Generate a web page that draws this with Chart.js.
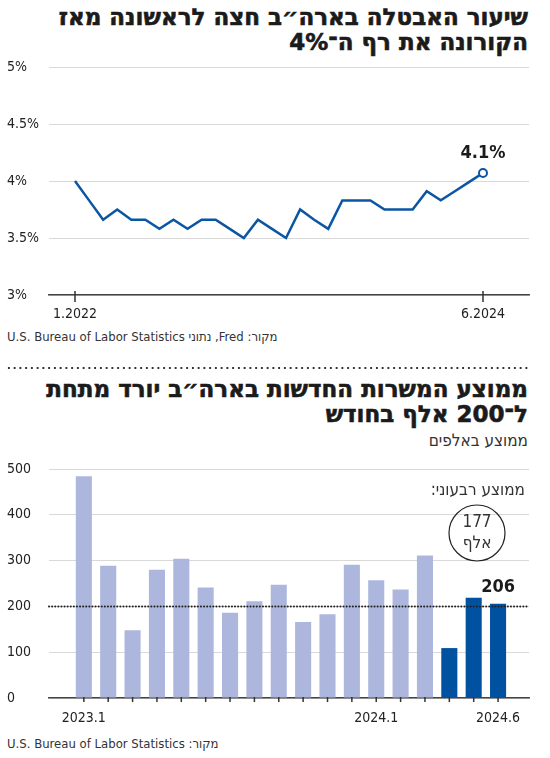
<!DOCTYPE html>
<html lang="he">
<head>
<meta charset="utf-8">
<script src="https://cdn.jsdelivr.net/npm/chart.js@4.4.1/dist/chart.umd.min.js"></script>
<style>
  body { margin:0; width:550px; height:758px; background:#fff; position:relative; overflow:hidden;
         font-family:'Liberation Sans Narrow','DejaVu Sans Condensed',sans-serif; color:#222; }
  .title { position:absolute; right:22px; direction:rtl; text-align:right; font-family:'DejaVu Sans',sans-serif;
           font-weight:bold; font-size:23px; line-height:25px; color:#1b1b1b; white-space:nowrap;
           -webkit-text-stroke:0.6px #1b1b1b; }
  .sub { position:absolute; right:22px; direction:rtl; font-size:17px; line-height:20px; color:#333; }
  .source { position:absolute; left:7px; direction:rtl; text-align:left; font-size:13px; line-height:16px; color:#333; white-space:nowrap; }
  .dots { position:absolute; left:6px; width:523px; top:366px; height:4px;
          background-image:radial-gradient(circle, #333 1.1px, transparent 1.5px); background-size:5.75px 4px; }
  canvas { position:absolute; left:0; }
</style>
</head>
<body>
<div class="title" style="top:5px">שיעור האבטלה בארה״ב חצה לראשונה מאז<br>הקורונה את רף ה־4%</div>
<canvas id="rate" width="550" height="270" style="top:55px"></canvas>
<div class="source" style="top:329px">מקור: Fred, נתוני U.S. Bureau of Labor Statistics</div>
<div class="dots"></div>
<div class="title" style="top:377px">ממוצע המשרות החדשות בארה״ב יורד מתחת<br>ל־200 אלף בחודש</div>
<div class="sub" style="top:430px">ממוצע באלפים</div>
<canvas id="jobs" width="550" height="275" style="top:455px"></canvas>
<div class="source" style="top:736px">מקור: U.S. Bureau of Labor Statistics</div>
<script>
// unemployment rate, monthly, as drawn
const months = ['1.2022','2.2022','3.2022','4.2022','5.2022','6.2022','7.2022','8.2022','9.2022','10.2022','11.2022','12.2022',
                '1.2023','2.2023','3.2023','4.2023','5.2023','6.2023','7.2023','8.2023','9.2023','10.2023','11.2023','12.2023',
                '1.2024','2.2024','3.2024','4.2024','5.2024','6.2024'];
const unemployment = [4.00,3.83,3.66,3.75,3.66,3.66,3.58,3.66,3.58,3.66,3.66,3.58,
                      3.50,3.66,3.58,3.50,3.75,3.66,3.58,3.83,3.83,3.83,3.75,3.75,
                      3.75,3.91,3.83,3.91,3.99,4.07];
const rateTicks = [3, 3.5, 4, 4.5, 5];
const rateShown = ['1.2022', '6.2024'];
const rateEndLabel = '4.1%';

// new jobs, thousands
const jobMonths = ['2023.1','2023.2','2023.3','2023.4','2023.5','2023.6','2023.7','2023.8','2023.9','2023.10','2023.11','2023.12',
                   '2024.1','2024.2','2024.3','2024.4','2024.5','2024.6'];
const jobs = [484,289,148,280,304,241,186,211,247,166,183,291,257,237,311,109,219,206];
const jobTicks = [0, 100, 200, 300, 400, 500];
const jobShown = ['2023.1', '2024.1', '2024.6'];
const lastQuarter = ['2024.4', '2024.5', '2024.6'];
const threshold = 200;
const quarterAvg = 177;

const blue = '#0a56a3';
const darkBar = '#0052a1';
const lightBar = '#adb7dd';
const family = "'Liberation Sans Narrow','DejaVu Sans Condensed',sans-serif";
const axisFont = { family: family, size: 14 };

function tickMarks(up, down) {
  return {
    id: 'tickMarks',
    afterDraw(chart) {
      const s = chart.scales.x, ctx = chart.ctx;
      ctx.save();
      ctx.strokeStyle = '#333';
      ctx.lineWidth = 1.5;
      s.ticks.forEach(t => {
        const x = s.getPixelForValue(t.value);
        ctx.beginPath();
        ctx.moveTo(x, s.top - up);
        ctx.lineTo(x, s.top + down);
        ctx.stroke();
      });
      ctx.restore();
    }
  };
}

const rateLabel = {
  id: 'rateLabel',
  afterDatasetsDraw(chart) {
    const pts = chart.getDatasetMeta(0).data;
    const p = pts[pts.length - 1];
    const ctx = chart.ctx;
    ctx.save();
    ctx.font = 'bold 18px ' + family;
    ctx.fillStyle = '#1b1b1b';
    ctx.textAlign = 'center';
    ctx.textBaseline = 'middle';
    ctx.fillText(rateEndLabel, p.x, p.y - 20);
    ctx.restore();
  }
};

new Chart(document.getElementById('rate'), {
  type: 'line',
  data: {
    datasets: [{
      data: unemployment.map((v, i) => ({ x: i, y: v })),
      borderColor: blue,
      borderWidth: 2.5,
      tension: 0,
      pointRadius: ctx => ctx.dataIndex === unemployment.length - 1 ? 4 : 0,
      pointBackgroundColor: '#fff',
      pointBorderColor: blue,
      pointBorderWidth: 2
    }]
  },
  options: {
    responsive: false,
    animation: false,
    layout: { padding: { left: 7, right: 21, top: 12, bottom: 0 } },
    plugins: { legend: { display: false }, tooltip: { enabled: false } },
    scales: {
      x: {
        type: 'linear', min: -1.848, max: 32.27, bounds: 'data',
        afterBuildTicks: s => { s.ticks = rateShown.map(l => ({ value: months.indexOf(l) })); },
        ticks: { autoSkip: false, maxRotation: 0, padding: 3, color: '#222', font: axisFont, callback: v => months[v] },
        grid: { display: false },
        border: { display: true, color: '#444', width: 1.5 },
        afterFit: s => { s.height = 30; }
      },
      y: {
        min: 3, max: 5,
        afterBuildTicks: s => { s.ticks = rateTicks.map(v => ({ value: v })); },
        ticks: { crossAlign: 'far', padding: 0, color: '#222', font: axisFont, callback: v => v + '%' },
        grid: { color: '#d9d9d9', lineWidth: 1, drawTicks: false },
        border: { display: false },
        afterFit: s => { s.width = 42; }
      }
    }
  },
  plugins: [tickMarks(4, 7), rateLabel]
});

const jobExtras = {
  id: 'jobExtras',
  afterDatasetsDraw(chart) {
    const ctx = chart.ctx, y = chart.scales.y, a = chart.chartArea;
    ctx.save();
    // 200 threshold
    const ty = y.getPixelForValue(threshold);
    ctx.strokeStyle = '#222';
    ctx.lineWidth = 2;
    ctx.lineCap = 'round';
    ctx.setLineDash([0.1, 3]);
    ctx.beginPath();
    ctx.moveTo(a.left, ty);
    ctx.lineTo(a.right, ty);
    ctx.stroke();
    ctx.setLineDash([]);
    // last value
    const bars = chart.getDatasetMeta(0).data;
    const b = bars[bars.length - 1];
    ctx.font = 'bold 18px ' + family;
    ctx.fillStyle = '#1b1b1b';
    ctx.textAlign = 'center';
    ctx.textBaseline = 'middle';
    ctx.fillText(String(jobs[jobs.length - 1]), b.x, b.y - 16);
    // quarterly average badge
    ctx.direction = 'rtl';
    ctx.font = '17px ' + family;
    ctx.fillStyle = '#333';
    ctx.textAlign = 'right';
    ctx.fillText('ממוצע רבעוני:', a.right - 4, a.top + 22);
    const cx = a.right - 52, cy = a.top + 64;
    ctx.strokeStyle = '#222';
    ctx.lineWidth = 1.2;
    ctx.beginPath();
    ctx.arc(cx, cy, 28, 0, Math.PI * 2);
    ctx.stroke();
    ctx.textAlign = 'center';
    ctx.fillText(String(quarterAvg), cx, cy - 10);
    ctx.fillText('אלף', cx, cy + 11);
    ctx.restore();
  }
};

new Chart(document.getElementById('jobs'), {
  type: 'bar',
  data: {
    datasets: [{
      data: jobs.map((v, i) => ({ x: i, y: v })),
      backgroundColor: jobMonths.map(m => lastQuarter.includes(m) ? darkBar : lightBar),
      borderWidth: 0,
      categoryPercentage: 1,
      barPercentage: 0.66
    }]
  },
  options: {
    responsive: false,
    animation: false,
    layout: { padding: { left: 7, right: 21, top: 14, bottom: 0 } },
    plugins: { legend: { display: false }, tooltip: { enabled: false } },
    scales: {
      x: {
        type: 'linear', min: -1.43, max: 18.27, bounds: 'data', offset: false,
        afterBuildTicks: s => { s.ticks = jobMonths.map((m, i) => ({ value: i })); },
        ticks: { autoSkip: false, maxRotation: 0, padding: 4, color: '#222', font: axisFont,
                 callback: v => jobShown.includes(jobMonths[v]) ? jobMonths[v] : '' },
        grid: { display: false, offset: false },
        border: { display: true, color: '#444', width: 1.5 },
        afterFit: s => { s.height = 32; }
      },
      y: {
        min: 0, max: 500,
        afterBuildTicks: s => { s.ticks = jobTicks.map(v => ({ value: v })); },
        ticks: { crossAlign: 'far', padding: 0, color: '#222', font: axisFont },
        grid: { color: '#d9d9d9', lineWidth: 1, drawTicks: false },
        border: { display: false },
        afterFit: s => { s.width = 42; }
      }
    }
  },
  plugins: [tickMarks(1, 4), jobExtras]
});
</script>
</body>
</html>
